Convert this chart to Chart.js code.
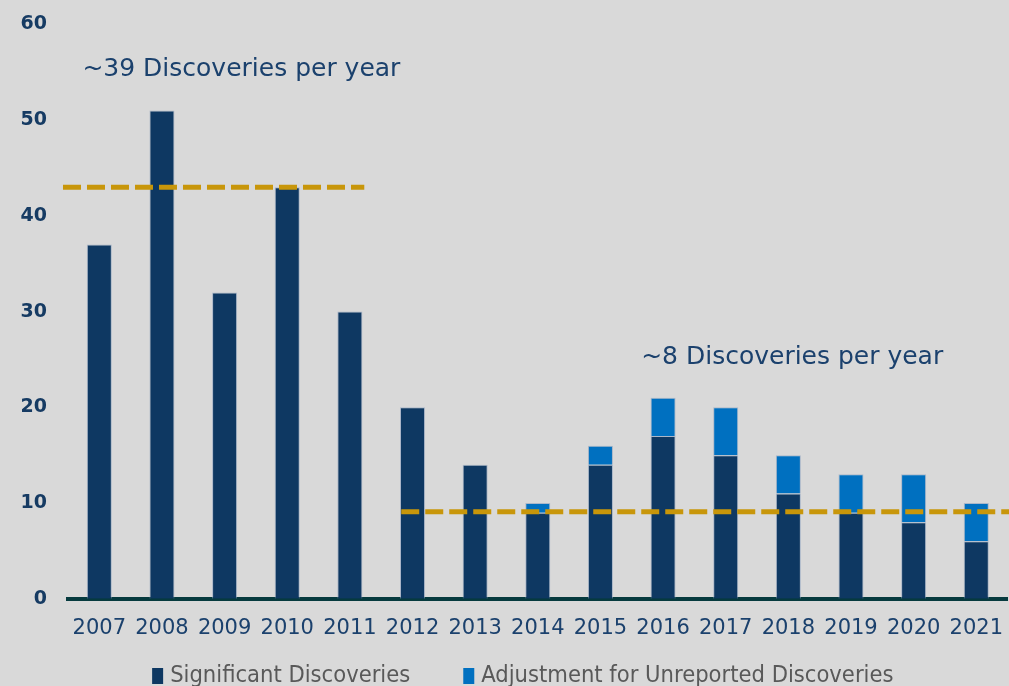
<!DOCTYPE html>
<html>
<head>
<meta charset="utf-8">
<script src="https://cdn.jsdelivr.net/npm/chart.js@4.4.1/dist/chart.umd.min.js"></script>
<style>
  html, body { margin: 0; padding: 0; background: #d9d9d9; overflow: hidden; }
  #wrap { position: absolute; left: 0; top: 0; width: 1012px; height: 686px; }
</style>
</head>
<body>
<div id="wrap"><canvas id="chart"></canvas></div>
<script>
// Data
const years = ['2007', '2008', '2009', '2010', '2011', '2012', '2013', '2014', '2015', '2016', '2017', '2018', '2019', '2020', '2021'];
const significant = [37, 51, 32, 43, 30, 20, 14, 9, 14, 17, 15, 11, 9, 8, 6];
const adjustment = [0, 0, 0, 0, 0, 0, 0, 1, 2, 4, 5, 4, 4, 5, 4];
const yTicks = [0, 10, 20, 30, 40, 50, 60];

// Average reference lines (value, and the span they cover in category units)
const avgLevels = [43, 9.1];
const avgFrom = [-0.58, 4.82];
const avgTo = [4.23, 14.6];
const avgLabels = ['~39 Discoveries per year', '~8 Discoveries per year'];

const NAVY = '#0e3862';
const BLUE = '#0070c0';
const GOLD = '#c8960a';
const TEXT = '#1b416d';

// where the two captions sit, in (category, value) units
const captionAt = [{ x: -0.27, y: 55.3 }, { x: 8.65, y: 25.2 }];

const captionPlugin = {
    id: 'captions',
    afterDatasetsDraw(chart) {
        const ctx = chart.ctx;
        const xs = chart.scales.xl, ys = chart.scales.yl;
        ctx.save();
        ctx.font = '25px "DejaVu Sans"';
        ctx.fillStyle = TEXT;
        ctx.textBaseline = 'middle';
        ctx.textAlign = 'left';
        avgLabels.forEach((t, i) => {
            ctx.fillText(t, xs.getPixelForValue(captionAt[i].x), ys.getPixelForValue(captionAt[i].y));
        });
        ctx.restore();
    }
};

// simple legend under the axis, drawn from the bar datasets
const legendPlugin = {
    id: 'bottomLegend',
    afterDraw(chart) {
        const ctx = chart.ctx;
        const items = chart.data.datasets.filter(d => d.type !== 'line');
        ctx.save();
        ctx.font = '23.5px "DejaVu Sans Condensed", "Liberation Sans"';
        ctx.textBaseline = 'middle';
        const box = 11, gap = 7, spacing = 53;
        const widths = items.map(d => box + gap + ctx.measureText(d.label).width);
        const total = widths.reduce((a, b) => a + b, 0) + spacing * (items.length - 1);
        let x = (chart.chartArea.left + chart.chartArea.right) / 2 - total / 2 - 15;
        const y = chart.height - 10;
        items.forEach((d, i) => {
            ctx.fillStyle = d.backgroundColor;
            ctx.fillRect(x, y - 8, box, 16);
            ctx.fillStyle = '#595959';
            ctx.fillText(d.label, x + box + gap, y);
            x += widths[i] + spacing;
        });
        ctx.restore();
    }
};

const lineSets = avgLevels.map((lvl, i) => ({
    type: 'line',
    label: 'avg' + i,
    data: [{ x: avgFrom[i], y: lvl }, { x: avgTo[i], y: lvl }],
    xAxisID: 'xl',
    yAxisID: 'yl',
    borderColor: GOLD,
    borderWidth: 5,
    borderDash: [18, 6],
    pointRadius: 0,
    clip: false,
    order: 0
}));

const barStyle = {
    borderColor: 'rgba(140,160,190,0.6)',
    borderWidth: 1,
    barPercentage: 0.4,
    categoryPercentage: 1,
    grouped: false,
    order: 1
};

new Chart(document.getElementById('chart'), {
    type: 'bar',
    data: {
        labels: years,
        datasets: [
            { label: 'Significant Discoveries', data: significant, backgroundColor: NAVY, ...barStyle },
            { label: 'Adjustment for Unreported Discoveries', data: adjustment, backgroundColor: BLUE, ...barStyle },
            ...lineSets
        ]
    },
    options: {
        responsive: true,
        maintainAspectRatio: false,
        animation: false,
        layout: { padding: { top: -2, right: 0, left: 0, bottom: 36 } },
        plugins: {
            tooltip: { enabled: false },
            legend: { display: false }
        },
        scales: {
            x: {
                stacked: true,
                grid: { display: false },
                border: { display: true, color: '#063a3e', width: 4 },
                ticks: { color: TEXT, font: { family: '"DejaVu Sans"', size: 21 }, padding: 9 }
            },
            y: {
                stacked: true,
                min: 0,
                max: 60,
                afterBuildTicks: (s) => { s.ticks = yTicks.map(v => ({ value: v })); },
                grid: { display: false },
                border: { display: false },
                ticks: { color: '#163b63', font: { family: '"DejaVu Sans"', size: 19, weight: 'bold' }, padding: 13 },
                afterFit: (s) => { s.width = 68; }
            },
            xl: { type: 'linear', display: false, offset: false, min: -0.5, max: 14.5 },
            yl: { type: 'linear', display: false, min: 0, max: 60 }
        }
    },
    plugins: [captionPlugin, legendPlugin]
});
</script>
</body>
</html>
